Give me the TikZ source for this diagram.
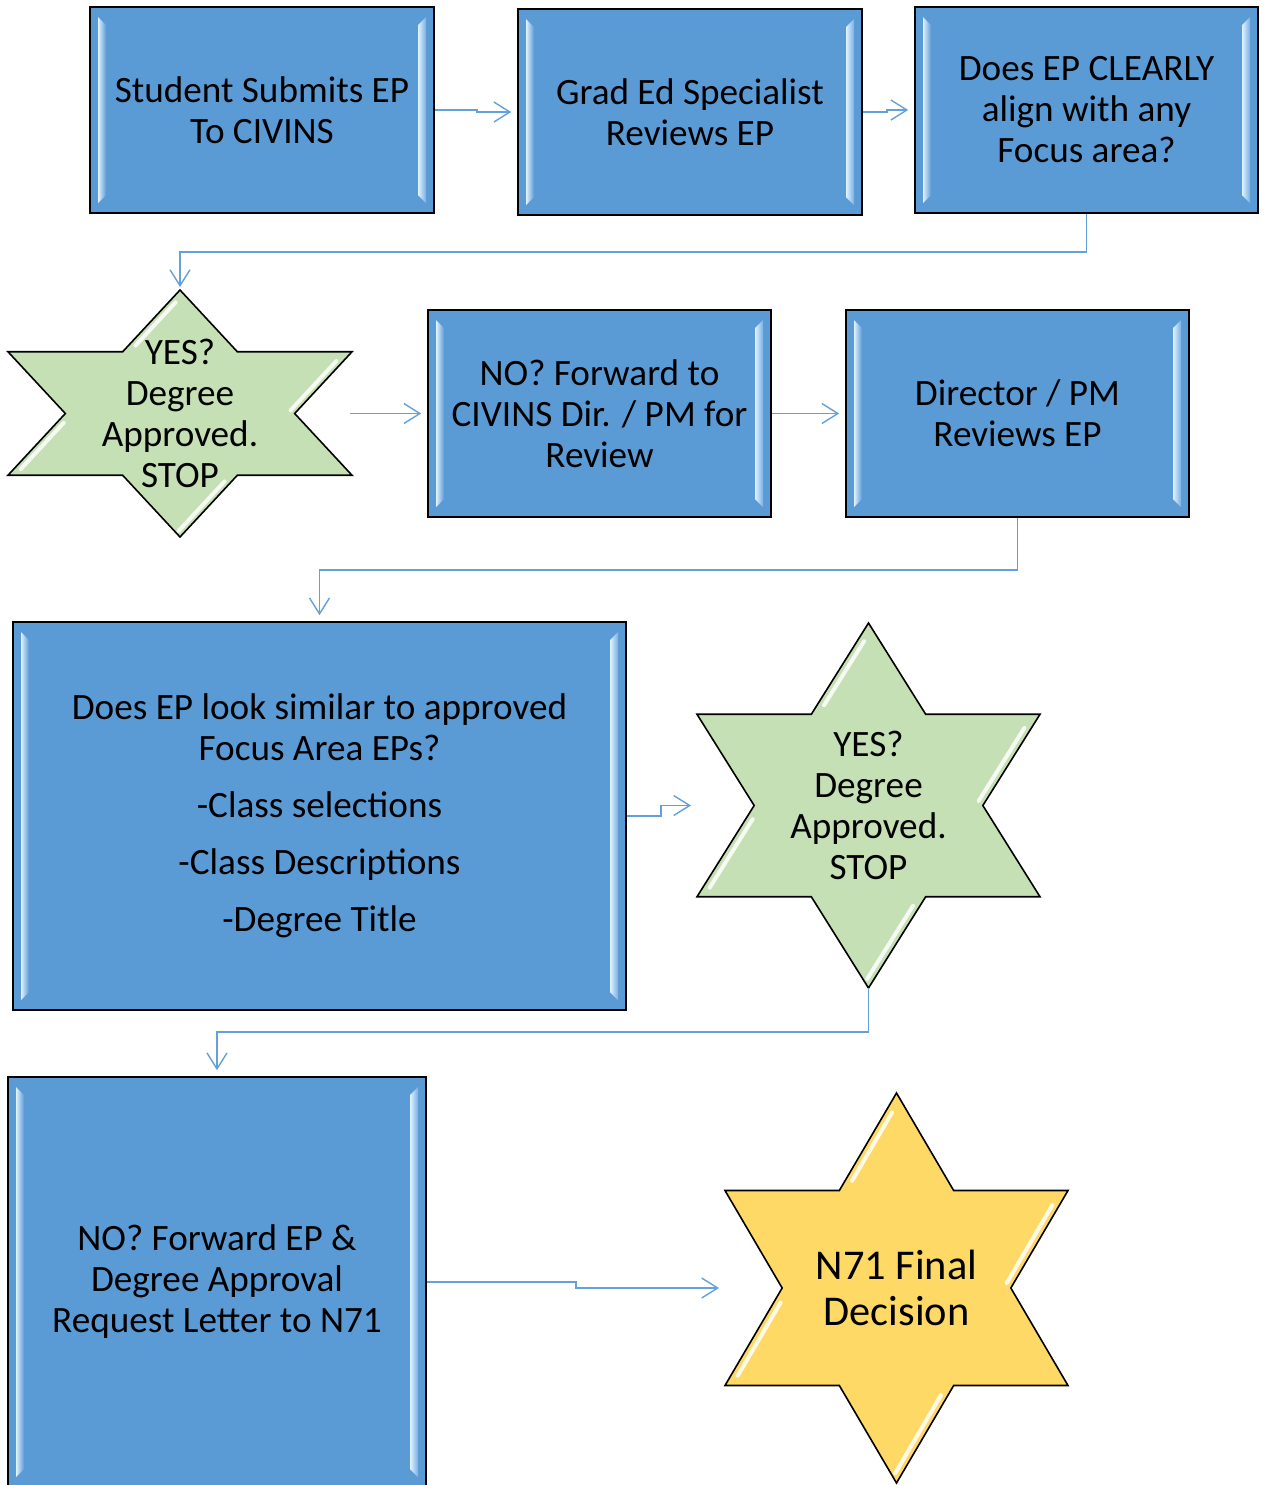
\documentclass[tikz,border=0pt]{standalone}
\usepackage{fontspec}
\setmainfont{Carlito}
\usetikzlibrary{arrows.meta,calc}
\definecolor{boxblue}{RGB}{91,155,213}
\definecolor{stargreen}{RGB}{197,224,180}
\definecolor{staryellow}{RGB}{255,217,102}
\definecolor{connblue}{RGB}{100,160,218}
\definecolor{hlA}{RGB}{225,242,255}
\definecolor{hlB}{RGB}{120,175,228}
\tikzset{
  boxnode/.style={draw=black, line width=0.8pt, fill=boxblue, align=center, inner sep=0pt,
    font=\fontsize{18.6}{20.5}\selectfont},
  startext/.style={align=center, inner sep=0pt, font=\fontsize{18.6}{20.5}\selectfont},
  bigstartext/.style={align=center, inner sep=0pt, font=\fontsize{21.2}{23}\selectfont},
  starline/.style={draw=black, line width=0.8pt, line join=miter},
  connarrow/.style={draw=connblue, line width=0.7pt, -{Straight Barb[length=8pt,width=10pt]}, shorten >=3pt},
  hl/.style={white, line width=2pt, line cap=round, opacity=0.85},
}
% name, x1, y1, x2, y2, text
\newcommand\bevbox[6]{%
  \node[boxnode, minimum width={(#4-#2)*0.5pt}, minimum height={(#5-#3)*0.5pt}]
    (#1) at ({(#2+#4)/2},{(#3+#5)/2}) {#6};
  \shade[left color=hlA, right color=boxblue]
    ({#2+8},{#3+10}) -- ({#2+16},{#3+18}) -- ({#2+16},{#5-18}) -- ({#2+8},{#5-10}) -- cycle;
  \shade[left color=hlA, right color=hlB]
    ({#4-16},{#3+18}) -- ({#4-8},{#3+10}) -- ({#4-8},{#5-10}) -- ({#4-16},{#5-18}) -- cycle;
}
% name, cx, cy, hw, hh, fill, text style, text
\newcommand\hexstar[8]{%
  \coordinate (#1-t) at (#2,{#3-#5});
  \coordinate (#1-b) at (#2,{#3+#5});
  \coordinate (#1-w) at ({#2-#4},#3);
  \coordinate (#1-e) at ({#2+#4},#3);
  \path[starline, fill=#6] (#2,{#3-#5}) -- ({#2+#4/3},{#3-#5/2}) -- ({#2+#4},{#3-#5/2})
    -- ({#2+2*#4/3},#3) -- ({#2+#4},{#3+#5/2}) -- ({#2+#4/3},{#3+#5/2}) -- (#2,{#3+#5})
    -- ({#2-#4/3},{#3+#5/2}) -- ({#2-#4},{#3+#5/2}) -- ({#2-2*#4/3},#3)
    -- ({#2-#4},{#3-#5/2}) -- ({#2-#4/3},{#3-#5/2}) -- cycle;
  \draw[hl] ($({#2-#4/3},{#3-#5/2})!.1!(#2,{#3-#5})+(7,0)$) -- ($({#2-#4/3},{#3-#5/2})!.8!(#2,{#3-#5})+(7,0)$);
  \draw[hl] ($({#2+2*#4/3},#3)!.05!({#2+#4},{#3-#5/2})+(-7,0)$) -- ($({#2+2*#4/3},#3)!.85!({#2+#4},{#3-#5/2})+(-7,0)$);
  \draw[hl] ($({#2-2*#4/3},#3)!.15!({#2-#4},{#3+#5/2})+(7,0)$) -- ($({#2-2*#4/3},#3)!.9!({#2-#4},{#3+#5/2})+(7,0)$);
  \draw[hl] ($({#2+#4/3},{#3+#5/2})!.1!(#2,{#3+#5})+(-7,0)$) -- ($({#2+#4/3},{#3+#5/2})!.9!(#2,{#3+#5})+(-7,0)$);
  \node[#7] (#1) at (#2,#3) {#8};
}
\begin{document}
\begin{tikzpicture}[x=0.5pt,y=-0.5pt]
\useasboundingbox (0,0) rectangle (1265,1485);
\clip (0,0) rectangle (1265,1485);
\fill[white] (0,0) rectangle (1265,1485);

\bevbox{b1}{90}{7}{434}{213}{Student Submits EP\\To CIVINS}
\bevbox{b2}{518}{9}{862}{215}{Grad Ed Specialist\\Reviews EP}
\bevbox{b3}{915}{7}{1258}{213}{Does EP CLEARLY\\align with any\\Focus area?}
\hexstar{s1}{180}{413.5}{172}{123.5}{stargreen}{startext}{YES?\\Degree\\Approved.\\STOP}
\bevbox{b4}{428}{310}{771}{517}{NO? Forward to\\CIVINS Dir. / PM for\\Review}
\bevbox{b5}{846}{310}{1189}{517}{Director / PM\\Reviews EP}
\bevbox{b6}{13}{622}{626}{1010}{Does EP look similar to approved\\Focus Area EPs?\\[8pt]-Class selections\\[8pt]-Class Descriptions\\[8pt]-Degree Title}
\hexstar{s2}{868.5}{805.5}{171.5}{182.5}{stargreen}{startext}{YES?\\Degree\\Approved.\\STOP}
\bevbox{b7}{8}{1077}{426}{1487}{NO? Forward EP \&\\Degree Approval\\Request Letter to N71}
\hexstar{s3}{896.5}{1288}{171.5}{195}{staryellow}{bigstartext}{N71 Final\\Decision}

\draw[connarrow] (b1.east) -- ++(42,0) |- (b2.west);
\draw[connarrow] (b2.east) -- ++(24,0) |- (b3.west);
\draw[connarrow, shorten >=1.5pt] (b3.south) -- ++(0,38) -| (s1-t);
\draw[connarrow] ($(s1-e)+(-2,0)$) -- (b4.west);
\draw[connarrow] (b4.east) -- (b5.west);
\draw[connarrow] (b5.south) -- ++(0,52) -| (b6.north);
\draw[connarrow] (b6.east) -- ++(34,0) |- (s2-w);
\draw[connarrow] (s2-b) -- ++(0,44) -| (b7.north);
\draw[connarrow] (b7.east) -- ++(149,0) |- (s3-w);
\end{tikzpicture}
\end{document}
